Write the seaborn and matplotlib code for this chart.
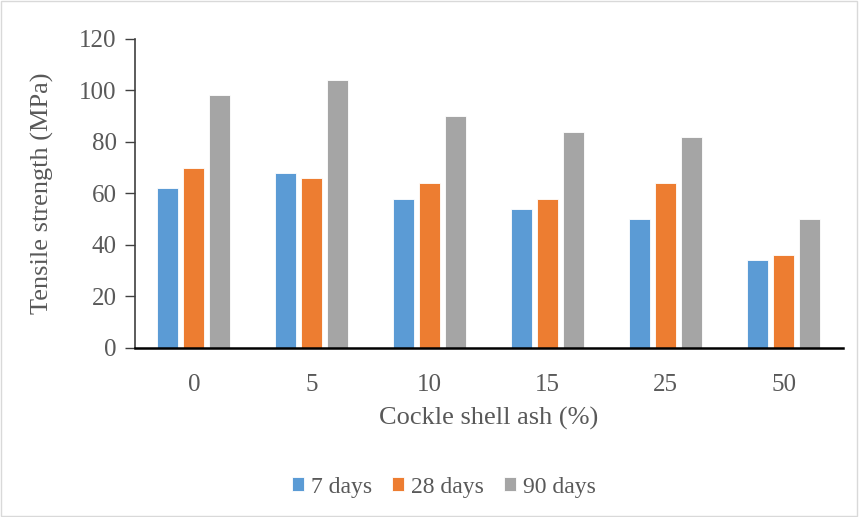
import matplotlib
matplotlib.use("Agg")
import matplotlib.pyplot as plt
import seaborn as sb
import pandas as pd
from matplotlib.patches import Rectangle

# dados
ash = ["0", "5", "10", "15", "25", "50"]
days7 = [62, 68, 58, 54, 50, 34]
days28 = [70, 66, 64, 58, 64, 36]
days90 = [98, 104, 90, 84, 82, 50]
series = ["7 days", "28 days", "90 days"]
cores = ["#5B9BD5", "#ED7D31", "#A5A5A5"]

df = pd.DataFrame({
    "ash": ash * 3,
    "valor": days7 + days28 + days90,
    "serie": [s for s in series for _ in ash],
})

sb.set_style("white")
plt.rcParams["font.family"] = ["Liberation Serif", "DejaVu Serif"]
texto = "#595959"

fig = plt.figure(figsize=(8.59, 5.17), dpi=100)
ax = fig.add_axes([0.157, 0.327, 0.824, 0.598])

sb.barplot(data=df, x="ash", y="valor", hue="serie", palette=cores, saturation=1,
           width=0.66, gap=0.19, edgecolor="white", linewidth=0.6, ax=ax)

ax.set_ylim(0, 120)
ax.set_yticks(range(0, 121, 20))
ax.set_xlim(-0.5, 5.5)
ax.set_xlabel("Cockle shell ash (%)", fontsize=19, color=texto, labelpad=8)
ax.set_ylabel("Tensile strength (MPa)", fontsize=19, color=texto, labelpad=18)
ax.tick_params(axis="y", labelsize=18, labelcolor=texto, left=True,
               length=7, width=1, color="#404040", pad=6)
ax.tick_params(axis="x", labelsize=18, labelcolor=texto, bottom=False, pad=15)

for s in ["top", "right"]:
    ax.spines[s].set_visible(False)
ax.spines["left"].set_color("#404040")
ax.spines["left"].set_linewidth(1.2)
ax.spines["bottom"].set_color("black")
ax.spines["bottom"].set_linewidth(1.8)

ax.legend(loc="center", bbox_to_anchor=(0.517, 0.058), bbox_transform=fig.transFigure,
          ncol=3, frameon=False, fontsize=17, labelcolor=texto,
          handlelength=0.5, handleheight=0.5, handletextpad=0.3, columnspacing=0.85)

fig.patches.append(Rectangle((0.001, 0.001), 0.997, 0.997, transform=fig.transFigure,
                             fill=False, edgecolor="#D9D9D9", linewidth=1))

fig.savefig("out.png", dpi=100)
